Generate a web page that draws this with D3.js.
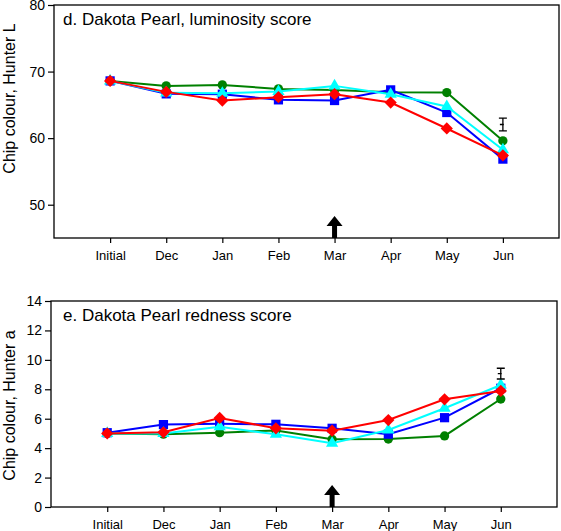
<!DOCTYPE html>
<html><head><meta charset="utf-8">
<script src="https://cdn.jsdelivr.net/npm/d3@7"></script>
<style>body{margin:0;background:#fff}svg{display:block}text{font-family:"Liberation Sans",Arial,sans-serif}</style>
</head><body><div id="c"></div>
<script>
const categories = ["Initial","Dec","Jan","Feb","Mar","Apr","May","Jun"];
const seriesNames = ["green","blue","cyan","red"];
// Panel d: luminosity (Hunter L)
const lGreen = [68.6, 67.85, 68.0, 67.4, 67.25, 66.9, 66.85, 59.6];
const lBlue  = [68.6, 66.65, 66.6, 65.75, 65.65, 67.25, 63.85, 56.85];
const lCyan  = [68.6, 66.8, 66.75, 67.0, 67.85, 66.6, 64.75, 58.25];
const lRed   = [68.6, 66.95, 65.65, 66.15, 66.6, 65.35, 61.45, 57.4];
const lErr = [61.1, 63.0];
const lTicks = [50, 60, 70, 80];
// Panel e: redness (Hunter a)
const aGreen = [5.0, 4.95, 5.05, 5.2, 4.6, 4.62, 4.83, 7.34];
const aBlue  = [5.05, 5.6, 5.65, 5.62, 5.35, 4.95, 6.07, 8.07];
const aCyan  = [5.0, 5.0, 5.45, 4.94, 4.33, 5.23, 6.71, 8.29];
const aRed   = [5.0, 5.08, 6.05, 5.35, 5.19, 5.91, 7.32, 7.89];
const aErr = [8.7, 9.43];
const aTicks = [0, 2, 4, 6, 8, 10, 12, 14];
const arrowAt = "Mar";

const colors = {green:"#008000", blue:"#0000ff", cyan:"#00ffff", red:"#ff0000"};
const diamond = {draw(ctx, size){ const r = Math.sqrt(size/2); ctx.moveTo(0,-r); ctx.lineTo(r,0); ctx.lineTo(0,r); ctx.lineTo(-r,0); ctx.closePath(); }};
const shapes = {green:d3.symbolCircle, blue:d3.symbolSquare, cyan:d3.symbolTriangle, red:diamond};
const sizes = {green:68, blue:85, cyan:65, red:75};

const svg = d3.select("#c").append("svg").attr("width",561).attr("height",531);

function panel(cfg){
  const g = svg.append("g");
  const x = d3.scaleLinear().domain([0,9]).range([cfg.left, cfg.right]);
  const y = d3.scaleLinear().domain(cfg.domain).range([cfg.bottom, cfg.top]);
  g.append("rect").attr("x",cfg.left).attr("y",cfg.top).attr("width",cfg.right-cfg.left).attr("height",cfg.bottom-cfg.top)
    .attr("fill","none").attr("stroke","#000").attr("stroke-width",1.3);
  const ya = d3.axisLeft(y).tickValues(cfg.ticks).tickSize(6).tickPadding(3).tickFormat(d3.format("d"));
  const yg = g.append("g").attr("transform",`translate(${cfg.left},0)`).call(ya);
  yg.select(".domain").remove();
  yg.selectAll("line").attr("stroke-width",1.2);
  yg.selectAll("text").attr("font-size",14).attr("fill","#000");
  const xa = d3.axisBottom(x).tickValues(d3.range(1,9)).tickSize(5).tickPadding(8).tickFormat(i=>categories[i-1]);
  const xg = g.append("g").attr("transform",`translate(0,${cfg.bottom})`).call(xa);
  xg.select(".domain").remove();
  xg.selectAll("line").attr("stroke-width",1.2);
  xg.selectAll("text").attr("font-size",13).attr("fill","#000");
  g.append("text").attr("x",63).attr("y",cfg.top+19.5).attr("font-size",17).text(cfg.title);
  g.append("text").attr("transform",`translate(${cfg.ylx},${cfg.yly}) rotate(-90)`).attr("text-anchor","middle")
    .attr("font-size",16).text(cfg.ylabel);
  const line = d3.line().x((d,i)=>x(i+1)).y(d=>y(d));
  seriesNames.forEach(s=>{
    g.append("path").datum(cfg.data[s]).attr("d",line).attr("fill","none").attr("stroke",colors[s]).attr("stroke-width",2);
    g.selectAll(null).data(cfg.data[s]).enter().append("path")
      .attr("d",d3.symbol().type(shapes[s]).size(sizes[s]))
      .attr("transform",(d,i)=>`translate(${x(i+1)},${y(d)})`).attr("fill",colors[s]);
  });
  const ex = x(8), e0 = y(cfg.err[0]), e1 = y(cfg.err[1]), em = (e0+e1)/2;
  g.append("path").attr("d",`M${ex},${e0}V${e1}M${ex-4},${e0}H${ex+4}M${ex-4},${e1}H${ex+4}M${ex-3},${em}H${ex+1}`)
    .attr("stroke","#000").attr("stroke-width",1.3).attr("fill","none");
  const ax = x(categories.indexOf(arrowAt)+1), ab = cfg.bottom;
  g.append("path").attr("d",`M${ax-2.5},${ab}V${ab-12}H${ax-8}L${ax},${ab-22}L${ax+8},${ab-12}H${ax+2.5}V${ab}Z`).attr("fill","#000");
}

panel({left:54, right:559, top:5, bottom:238, domain:[45,80], ticks:lTicks, title:"d. Dakota Pearl, luminosity score",
  ylabel:"Chip colour, Hunter L", ylx:14.5, yly:98.5, err:lErr, data:{green:lGreen, blue:lBlue, cyan:lCyan, red:lRed}});
panel({left:51, right:557, top:301, bottom:507, domain:[0,14], ticks:aTicks, title:"e. Dakota Pearl redness score",
  ylabel:"Chip colour, Hunter a", ylx:14.5, yly:405.5, err:aErr, data:{green:aGreen, blue:aBlue, cyan:aCyan, red:aRed}});
</script></body></html>
